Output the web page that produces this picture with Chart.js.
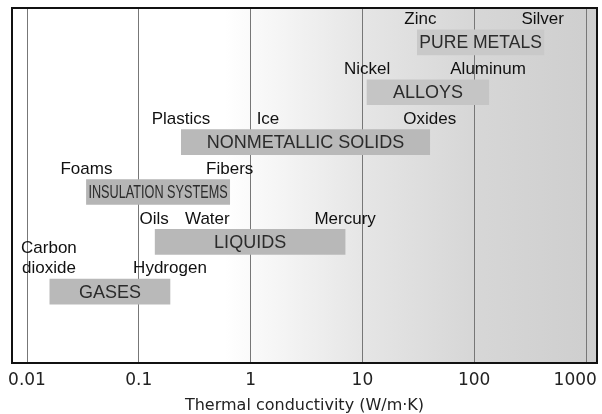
<!DOCTYPE html>
<html>
<head>
<meta charset="utf-8">
<script src="https://cdn.jsdelivr.net/npm/chart.js@4"></script>
<style>
  html, body { margin: 0; padding: 0; background: #fff; }
  #wrap { width: 602px; height: 414px; }
</style>
</head>
<body>
<div id="wrap"><canvas id="myChart"></canvas></div>
<script>
// material classes, low and high end of each range (W/m.K)
const classNames = ['PURE METALS', 'ALLOYS', 'NONMETALLIC SOLIDS', 'INSULATION SYSTEMS', 'LIQUIDS', 'GASES'];
const lowValues  = [31, 11, 0.24, 0.034, 0.14, 0.016];
const highValues = [420, 135, 40, 0.65, 7, 0.19];

// named materials written above the bars
const materialNames  = ['Zinc', 'Silver', 'Nickel', 'Aluminum', 'Plastics', 'Ice', 'Oxides', 'Foams', 'Fibers', 'Oils', 'Water', 'Mercury', 'Carbon\ndioxide', 'Hydrogen'];
const materialValues = [33, 410, 11, 133, 0.238, 1.43, 40, 0.034, 0.65, 0.137, 0.41, 7, 0.0157, 0.19];
const materialRows   = [0, 0, 1, 1, 2, 2, 2, 3, 3, 4, 4, 4, 5, 5];

const tickValues = [0.01, 0.1, 1, 10, 100, 1000];

const barColors = ['#c9c9c9', '#c5c5c5', '#b9b9b9', '#b5b5b5', '#b8b8b8', '#b9b9b9'];

const bgPlugin = {
  id: 'bg',
  beforeDraw(chart) {
    const {ctx, chartArea: a} = chart;
    const g = ctx.createLinearGradient(a.left, 0, a.right, 0);
    const w = a.right - a.left;
    g.addColorStop(0, '#ffffff');
    g.addColorStop((225 - a.left) / w, '#ffffff');
    g.addColorStop((360 - a.left) / w, '#e6e6e6');
    g.addColorStop((470 - a.left) / w, '#d7d7d7');
    g.addColorStop(1, '#cecece');
    ctx.save();
    ctx.fillStyle = g;
    ctx.fillRect(a.left, a.top, w, a.bottom - a.top);
    ctx.restore();
  },
  afterDraw(chart) {
    const {ctx, chartArea: a} = chart;
    ctx.save();
    ctx.strokeStyle = '#111';
    ctx.lineWidth = 2;
    ctx.strokeRect(a.left, a.top, a.right - a.left, a.bottom - a.top);
    ctx.restore();
  }
};

const labelPlugin = {
  id: 'labels',
  afterDatasetsDraw(chart) {
    const ctx = chart.ctx;
    const xs = chart.scales.x, ys = chart.scales.y;
    ctx.save();
    ctx.textAlign = 'center';
    ctx.textBaseline = 'middle';
    // class names inside bars
    ctx.font = '18px "Liberation Sans", Arial, sans-serif';
    ctx.fillStyle = '#2b2b2b';
    chart.getDatasetMeta(0).data.forEach((bar, i) => {
      const cx = (bar.x + bar.base) / 2;
      const bw = Math.abs(bar.x - bar.base) - 4;
      const tw = ctx.measureText(classNames[i]).width;
      const s = tw > bw ? bw / tw : 1;
      ctx.save();
      ctx.translate(cx, bar.y + 1);
      ctx.scale(s, 1);
      ctx.fillText(classNames[i], 0, 0);
      ctx.restore();
    });
    // material names above bars
    ctx.font = '17px "Liberation Sans", Arial, sans-serif';
    ctx.fillStyle = '#111';
    materialNames.forEach((name, i) => {
      const x = xs.getPixelForValue(materialValues[i]);
      const y = ys.getPixelForValue(materialRows[i]) - 23;
      const lines = name.split('\n');
      lines.forEach((ln, k) => {
        ctx.fillText(ln, x, y - (lines.length - 1 - k) * 20);
      });
    });
    ctx.restore();
  }
};

const ctx = document.getElementById('myChart');

new Chart(ctx, {
  type: 'bar',
  data: {
    datasets: [{
      data: classNames.map((c, i) => ({x: [lowValues[i], highValues[i]], y: i})),
      backgroundColor: barColors,
      borderWidth: 0,
      borderSkipped: false,
      barThickness: 25
    }]
  },
  options: {
    indexAxis: 'y',
    responsive: true,
    maintainAspectRatio: false,
    animation: false,
    layout: { padding: { left: 12, right: 5, top: 8, bottom: 0 } },
    plugins: { legend: { display: false }, tooltip: { enabled: false } },
    scales: {
      x: {
        type: 'logarithmic',
        min: 0.00734,
        max: 1254,
        afterBuildTicks: (axis) => { axis.ticks = tickValues.map(v => ({value: v})); },
        afterFit: (axis) => { axis.paddingLeft = 0; axis.paddingRight = 0; },
        ticks: {
          autoSkip: false,
          maxRotation: 0,
          padding: 9,
          color: '#222',
          font: { family: '"DejaVu Sans", sans-serif', size: 17, lineHeight: 1 },
          // last label sits inside the frame edge
          callback: (v) => v === 1000 ? '1000\u00a0\u00a0\u00a0\u00a0' : String(v)
        },
        grid: { color: '#777', lineWidth: 1, drawTicks: false },
        border: { display: false },
        title: {
          display: true,
          text: 'Thermal conductivity (W/m\u00b7K)',
          color: '#222',
          font: { family: '"DejaVu Sans", sans-serif', size: 16, lineHeight: 1 },
          padding: { top: 0, bottom: 0 }
        }
      },
      y: {
        type: 'linear',
        reverse: true,
        offset: false,
        min: -0.69,
        max: 6.43,
        display: false
      }
    }
  },
  plugins: [bgPlugin, labelPlugin]
});
</script>
</body>
</html>
